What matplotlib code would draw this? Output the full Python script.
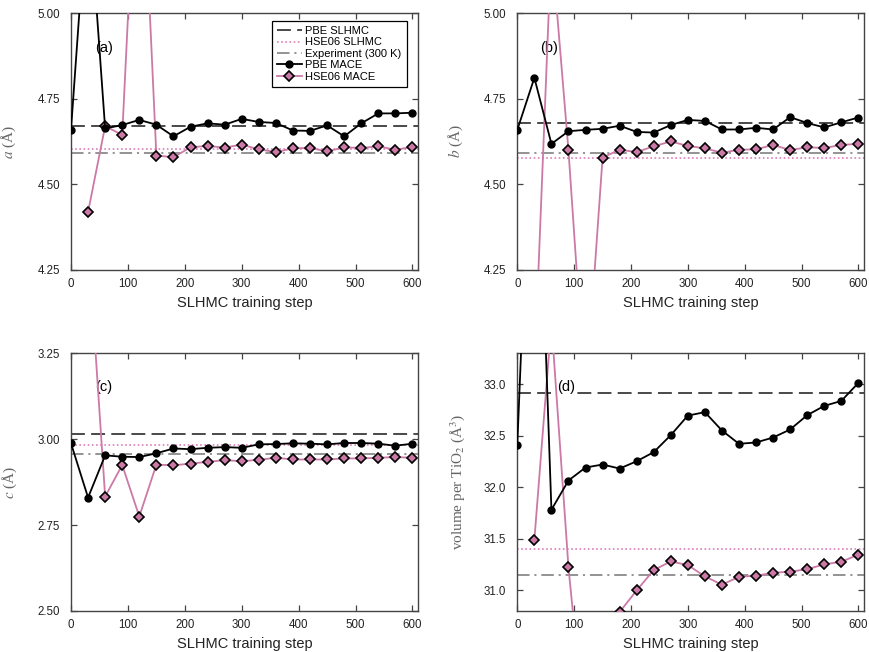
import numpy as np
import matplotlib
matplotlib.use("Agg")
import matplotlib.pyplot as plt

plt.rcParams["font.family"] = ["Liberation Sans", "DejaVu Sans"]
plt.rcParams["mathtext.fontset"] = "stix"
plt.rcParams["lines.scale_dashes"] = False

nan = np.nan

# SLHMC training steps at which the MACE models were evaluated
steps = [0, 30, 60, 90, 120, 150, 180, 210, 240, 270, 300,
         330, 360, 390, 420, 450, 480, 510, 540, 570, 600]

# lattice parameter a (Angstrom)
pbe_a = [4.659, 5.36, 4.663, 4.673, 4.688, 4.674, 4.640, 4.668, 4.678, 4.674, 4.691,
         4.682, 4.679, 4.657, 4.656, 4.672, 4.640, 4.678, 4.707, 4.707, 4.709]
hse_a = [nan, 4.419, 4.670, 4.644, 5.67, 4.584, 4.579, 4.608, 4.612, 4.607, 4.616,
         4.602, 4.594, 4.605, 4.606, 4.596, 4.608, 4.606, 4.611, 4.601, 4.609]

# lattice parameter b (Angstrom)
pbe_b = [4.659, 4.811, 4.618, 4.655, 4.659, 4.662, 4.671, 4.653, 4.651, 4.673, 4.688,
         4.685, 4.660, 4.660, 4.665, 4.660, 4.696, 4.679, 4.666, 4.681, 4.695]
hse_b = [nan, 3.95, 5.20, 4.599, 3.87, 4.578, 4.601, 4.594, 4.611, 4.625, 4.612,
         4.605, 4.592, 4.601, 4.602, 4.615, 4.600, 4.608, 4.606, 4.615, 4.618]

# lattice parameter c (Angstrom)
pbe_c = [2.988, 2.830, 2.953, 2.949, 2.948, 2.959, 2.973, 2.971, 2.975, 2.977, 2.975,
         2.985, 2.986, 2.988, 2.987, 2.985, 2.989, 2.989, 2.987, 2.981, 2.987]
hse_c = [nan, 3.58, 2.833, 2.925, 2.775, 2.926, 2.924, 2.929, 2.934, 2.939, 2.936,
         2.940, 2.946, 2.941, 2.941, 2.941, 2.944, 2.944, 2.946, 2.948, 2.946]

# volume per TiO2 unit (Angstrom^3)
pbe_v = [32.415, 36.5, 31.782, 32.066, 32.192, 32.221, 32.182, 32.253, 32.341, 32.506, 32.696,
         32.729, 32.551, 32.422, 32.435, 32.483, 32.561, 32.700, 32.790, 32.838, 33.013]
hse_v = [nan, 31.491, 33.6, 31.223, 29.55, 30.70, 30.79, 31.000, 31.197, 31.281, 31.245,
         31.136, 31.055, 31.132, 31.142, 31.171, 31.181, 31.206, 31.252, 31.278, 31.346]

# reference values: PBE SLHMC, HSE06 SLHMC, experiment (300 K)
ref_a = [4.671, 4.602, 4.592]
ref_b = [4.679, 4.576, 4.591]
ref_c = [3.014, 2.982, 2.958]
ref_v = [32.916, 31.400, 31.152]

PINK = "#CC79A7"
DOT_PINK = "#dd7db8"

panels = [
    # pbe, hse, refs, ylabel, ylim, yticks, fmt, tag, tag position, axes rect, ylabel x
    (pbe_a, hse_a, ref_a, r"$a$ (Å)", (4.25, 5.00), [4.25, 4.50, 4.75, 5.00], "%.2f",
     "(a)", (0.069, 0.864), [0.0817, 0.586, 0.3995, 0.394], -0.153),
    (pbe_b, hse_b, ref_b, r"$b$ (Å)", (4.25, 5.00), [4.25, 4.50, 4.75, 5.00], "%.2f",
     "(b)", (0.065, 0.865), [0.5953, 0.586, 0.399, 0.394], -0.150),
    (pbe_c, hse_c, ref_c, r"$c$ (Å)", (2.50, 3.25), [2.50, 2.75, 3.00, 3.25], "%.2f",
     "(c)", (0.069, 0.868), [0.0817, 0.0629, 0.3995, 0.3952], -0.150),
    (pbe_v, hse_v, ref_v, r"volume per TiO$_2$ (Å$^3$)", (30.8, 33.3),
     [31.0, 31.5, 32.0, 32.5, 33.0], "%.1f",
     "(d)", (0.115, 0.868), [0.5953, 0.0629, 0.399, 0.3952], -0.146),
]

fig = plt.figure(figsize=(8.69, 6.52), dpi=100)

for i, (pbe, hse, ref, ylab, ylim, yticks, fmt, tag, tagpos, rect, ylx) in enumerate(panels):
    ax = fig.add_axes(rect)

    ax.axhline(ref[0], color="#3a3a3a", lw=1.3, dashes=(10, 4.5), zorder=1,
               label="PBE SLHMC")
    ax.axhline(ref[1], color=DOT_PINK, lw=1.2, dashes=(1.2, 1.8), zorder=1,
               label="HSE06 SLHMC")
    ax.axhline(ref[2], color="#8a8a8a", lw=1.3, dashes=(9, 3.5, 1.5, 3.5), zorder=1,
               label="Experiment (300 K)")

    ax.plot(steps, pbe, color="black", lw=1.3, marker="o", ms=5,
            mfc="black", mec="black", zorder=4, label="PBE MACE")
    ax.plot(steps, hse, color=PINK, lw=1.3, marker="D", ms=5,
            mfc=PINK, mec="black", mew=1.2, zorder=3, label="HSE06 MACE")

    ax.text(tagpos[0], tagpos[1], tag, transform=ax.transAxes, fontsize=10.5,
            ha="left", va="center", zorder=2,
            bbox=dict(boxstyle="square,pad=0.1", facecolor="white", edgecolor="none"))

    ax.set_xlim(0, 610)
    ax.set_ylim(*ylim)
    ax.set_xticks([0, 100, 200, 300, 400, 500, 600])
    ax.set_yticks(yticks)
    ax.yaxis.set_major_formatter(matplotlib.ticker.FormatStrFormatter(fmt))
    ax.tick_params(direction="in", top=True, right=True, length=4, width=0.9,
                   labelsize=8.3, labelcolor="#222222", color="#444444")
    ax.tick_params(axis="y", pad=8)
    ax.tick_params(axis="x", pad=6)
    for sp in ax.spines.values():
        sp.set_color("#444444")
        sp.set_linewidth(1.0)

    ax.set_xlabel("SLHMC training step", fontsize=10.5, color="#222222", labelpad=4)
    ax.set_ylabel(ylab, fontsize=11, color="#666666",
                  family=["Liberation Serif", "DejaVu Serif"])
    ax.yaxis.set_label_coords(ylx, 0.5)

    if i == 0:
        leg = ax.legend(loc="upper right", bbox_to_anchor=(0.967, 0.969),
                        borderaxespad=0, fontsize=8, frameon=True, fancybox=False,
                        labelspacing=0.13, handlelength=2.3, handletextpad=0.3,
                        borderpad=0.45, framealpha=1)
        leg.get_frame().set_edgecolor("black")
        leg.get_frame().set_linewidth(0.9)

fig.savefig("out.png", dpi=100)
